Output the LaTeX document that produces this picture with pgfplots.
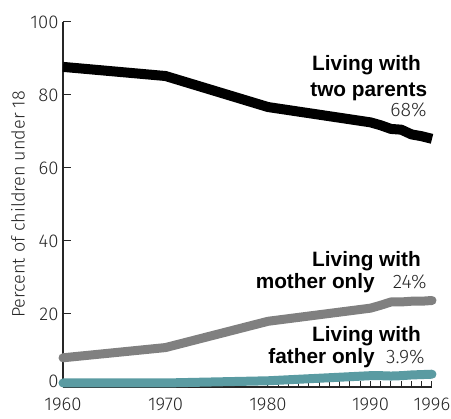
\documentclass[border=0pt]{standalone}
\usepackage{fontspec}
\setmainfont{Fira Sans}[UprightFont={* Light}, BoldFont={* Medium}]
\newfontfamily\lblfont{Liberation Sans}
\usepackage{pgfplots}
\pgfplotsset{compat=1.18}
\definecolor{teal2}{RGB}{90,155,162}
\definecolor{gray2}{RGB}{128,128,128}
\begin{document}
\begin{tikzpicture}
\useasboundingbox (-63pt,-32pt) rectangle (388pt,387pt);
\begin{axis}[
  at={(0pt,0pt)}, anchor=south west,
  scale only axis, width=369pt, height=365pt,
  xmin=1960, xmax=1996, ymin=0, ymax=100,
  axis lines*=left,
  axis line style={line width=1.2pt, black!85},
  clip=false,
  xtick={1960,1970,1980,1990,1996},
  xticklabels={1960,1970,1980,1990,1996},
  major x tick style={draw=none},
  minor xtick={1980,1981,...,1996},
  minor tick length=6pt,
  major tick length=8pt,
  tick align=inside,
  tick style={line width=1pt, black!85},
  ytick={20,40,60,80,100},
  extra y ticks={0},
  extra y tick style={yticklabel style={yshift=6pt}},
  /pgf/number format/assume math mode=true,
  tick label style={font=\fontsize{18.5}{18.5}\selectfont, text=black!85},
  x tick label style={yshift=-7pt},
  y tick label style={xshift=-1pt},
  ylabel={Percent of children under 18},
  every axis y label/.style={at={(axis description cs:-0.122,0.5)}, rotate=90, anchor=center, font=\fontsize{18}{18}\selectfont, text=black!85},
]
\addplot[black, line width=10pt, line cap=butt, line join=round] coordinates {(1960,87.7)(1970,85.2)(1980,76.7)(1990,72.5)(1991,71.7)(1992,70.7)(1993,70.5)(1994,69.2)(1995,68.7)(1996,68.0)};
\addplot[gray2, line width=9pt, line cap=round, line join=round] coordinates {(1960,8.0)(1970,10.8)(1980,18.0)(1990,21.6)(1991,22.4)(1992,23.3)(1993,23.3)(1994,23.5)(1995,23.5)(1996,23.7)};
\addplot[teal2, line width=9pt, line cap=round, line join=round] coordinates {(1960,1.1)(1970,1.1)(1980,1.7)(1990,3.1)(1991,3.1)(1992,3.0)(1993,3.1)(1994,3.3)(1995,3.4)(1996,3.5)};
\begin{scope}[every node/.style={anchor=base east, inner sep=0pt}]
\node[font=\lblfont\bfseries\fontsize{20.8}{20.8}\selectfont] at (axis cs:1994.93,86.6) {Living with};
\node[font=\lblfont\bfseries\fontsize{20.8}{20.8}\selectfont] at (axis cs:1995.54,79.7) {two parents};
\node[font=\fontsize{19.5}{19.5}\selectfont, text=black!85] at (axis cs:1995.48,74.0) {68\%};
\node[font=\lblfont\bfseries\fontsize{20.8}{20.8}\selectfont] at (axis cs:1994.93,32.9) {Living with};
\node[font=\lblfont\bfseries\fontsize{20.8}{20.8}\selectfont] at (axis cs:1990.44,27.0) {mother only};
\node[font=\fontsize{19.5}{19.5}\selectfont, text=black!85] at (axis cs:1995.48,27.0) {24\%};
\node[font=\lblfont\bfseries\fontsize{20.8}{20.8}\selectfont] at (axis cs:1994.93,12.4) {Living with};
\node[font=\lblfont\bfseries\fontsize{20.8}{20.8}\selectfont] at (axis cs:1990.44,6.5) {father only};
\node[font=\fontsize{19.5}{19.5}\selectfont, text=black!85] at (axis cs:1995.3,6.5) {3.9\%};
\end{scope}
\end{axis}
\end{tikzpicture}
\end{document}
